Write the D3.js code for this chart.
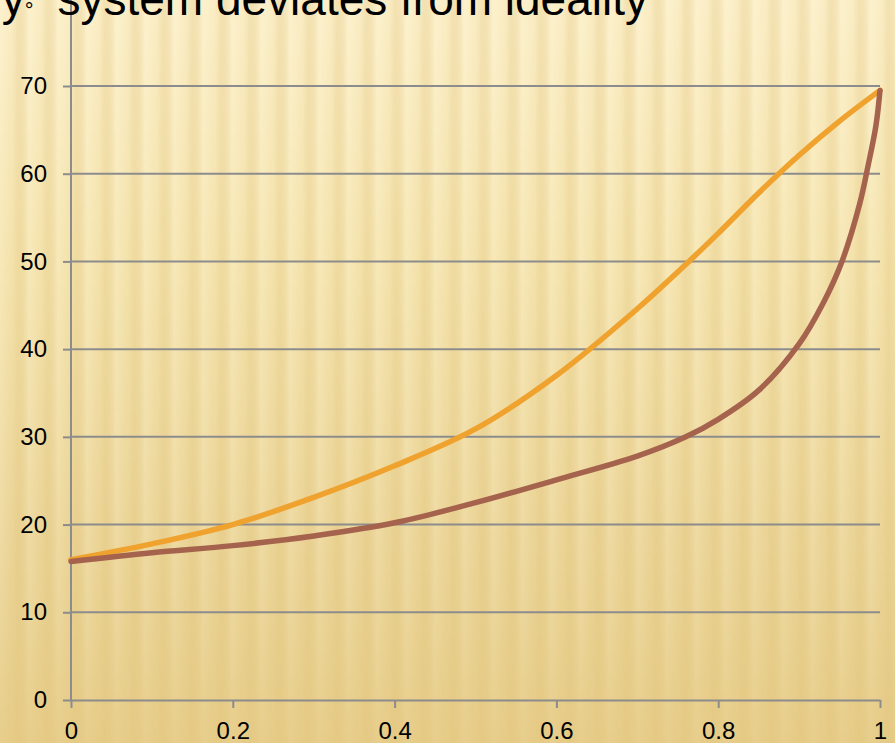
<!DOCTYPE html>
<html>
<head>
<meta charset="utf-8">
<script src="https://cdn.jsdelivr.net/npm/d3@7"></script>
<style>
  html, body { margin: 0; padding: 0; background: #f3e0a8; }
  svg { display: block; }
  text { font-family: "Liberation Sans", Arial, sans-serif; }
</style>
</head>
<body>
<div id="chart"></div>
<script>
// Mole fraction grid and the two curves (upper and lower boundary)
const xTicks = [0, 0.2, 0.4, 0.6, 0.8, 1];
const yTicks = [0, 10, 20, 30, 40, 50, 60, 70];

const upperX = [0, 0.1, 0.2, 0.3, 0.4, 0.5, 0.6, 0.7, 0.75, 0.8, 0.85, 0.9, 0.95, 1];
const upperY = [16, 17.8, 20, 23.1, 26.7, 30.9, 37.0, 44.6, 48.8, 53.2, 57.8, 62.1, 66.0, 69.5];

const lowerX = [0, 0.1, 0.2, 0.3, 0.4, 0.5, 0.6, 0.7, 0.76, 0.8, 0.85, 0.9, 0.93, 0.953, 0.975, 0.985, 0.995, 1];
const lowerY = [15.8, 16.8, 17.6, 18.7, 20.2, 22.5, 25.1, 27.8, 30, 32, 35.3, 40.6, 45.3, 50, 56.6, 60.8, 65.5, 69.5];

const titleParts = ["y", "°", "system deviates from ideality"];

const W = 895, H = 743;
const margin = { left: 71, right: 15, bottom: 43 };

const svg = d3.select("#chart").append("svg")
  .attr("width", W).attr("height", H);

const defs = svg.append("defs");

// warm backdrop: pale cream at the top, deeper gold toward the bottom
const bg = defs.append("linearGradient").attr("id", "bgGrad")
  .attr("x1", 0).attr("y1", 0).attr("x2", 0).attr("y2", 1);
bg.append("stop").attr("offset", 0).attr("stop-color", "#fbedc4");
bg.append("stop").attr("offset", 0.35).attr("stop-color", "#f4e2aa");
bg.append("stop").attr("offset", 0.7).attr("stop-color", "#ebd496");
bg.append("stop").attr("offset", 1).attr("stop-color", "#e6cb86");

// soft vertical ribbing
const rib = defs.append("linearGradient").attr("id", "ribGrad")
  .attr("x1", 0).attr("y1", 0).attr("x2", 1).attr("y2", 0);
rib.append("stop").attr("offset", 0).attr("stop-color", "#fff8dc").attr("stop-opacity", 0.4);
rib.append("stop").attr("offset", 0.35).attr("stop-color", "#fff8dc").attr("stop-opacity", 0.08);
rib.append("stop").attr("offset", 0.6).attr("stop-color", "#c9a24a").attr("stop-opacity", 0.14);
rib.append("stop").attr("offset", 1).attr("stop-color", "#fff8dc").attr("stop-opacity", 0.4);

const pat = defs.append("pattern").attr("id", "ribs")
  .attr("patternUnits", "userSpaceOnUse")
  .attr("width", 29).attr("height", H);
pat.append("rect").attr("width", 29).attr("height", H).attr("fill", "url(#ribGrad)");

const fade = defs.append("linearGradient").attr("id", "fadeGrad")
  .attr("x1", 0).attr("y1", 0).attr("x2", 0).attr("y2", 1);
fade.append("stop").attr("offset", 0).attr("stop-color", "white").attr("stop-opacity", 1);
fade.append("stop").attr("offset", 0.75).attr("stop-color", "white").attr("stop-opacity", 0.5);
fade.append("stop").attr("offset", 1).attr("stop-color", "white").attr("stop-opacity", 0.2);
defs.append("mask").attr("id", "ribMask")
  .append("rect").attr("width", W).attr("height", H).attr("fill", "url(#fadeGrad)");

svg.append("rect").attr("width", W).attr("height", H).attr("fill", "url(#bgGrad)");
svg.append("rect").attr("width", W).attr("height", H).attr("fill", "url(#ribs)")
  .attr("mask", "url(#ribMask)");

// scales
const x = d3.scaleLinear().domain([0, 1]).range([margin.left, W - margin.right]);
const y = d3.scaleLinear().domain([0, 70]).range([H - margin.bottom, 86]);

const gridColor = "#8c8c8c";

// horizontal gridlines
svg.append("g").selectAll("line")
  .data(yTicks.filter(d => d > 0))
  .join("line")
  .attr("x1", x(0)).attr("x2", x(1))
  .attr("y1", d => y(d)).attr("y2", d => y(d))
  .attr("stroke", gridColor).attr("stroke-width", 2);

// y axis (line continues to the top edge)
const yAxis = svg.append("g")
  .attr("transform", `translate(${x(0)},0)`)
  .call(d3.axisLeft(y).tickValues(yTicks).tickSize(8).tickSizeOuter(0).tickPadding(16)
    .tickFormat(d3.format("d")));
yAxis.select(".domain").remove();
yAxis.selectAll(".tick line").attr("stroke", gridColor).attr("stroke-width", 2);
yAxis.selectAll("text").attr("font-size", 24).attr("fill", "#000");
svg.append("line")
  .attr("x1", x(0)).attr("x2", x(0))
  .attr("y1", y(0)).attr("y2", 0)
  .attr("stroke", gridColor).attr("stroke-width", 2);

// x axis
const xAxis = svg.append("g")
  .attr("transform", `translate(0,${y(0)})`)
  .call(d3.axisBottom(x).tickValues(xTicks).tickSize(8).tickSizeOuter(0).tickPadding(14)
    .tickFormat(d3.format("~g")));
xAxis.select(".domain").attr("stroke", gridColor).attr("stroke-width", 2);
xAxis.selectAll(".tick line").attr("stroke", gridColor).attr("stroke-width", 2);
xAxis.selectAll("text").attr("font-size", 24).attr("fill", "#000");

// curves (centripetal Catmull-Rom keeps the steep end smooth)
const curveLine = d3.line()
  .x(d => x(d[0])).y(d => y(d[1]))
  .curve(d3.curveCatmullRom.alpha(0.5));

svg.append("path")
  .datum(upperX.map((v, i) => [v, upperY[i]]))
  .attr("d", curveLine)
  .attr("fill", "none").attr("stroke", "#f0a22e").attr("stroke-width", 5.5)
  .attr("stroke-linecap", "round").attr("stroke-linejoin", "round");

svg.append("path")
  .datum(lowerX.map((v, i) => [v, lowerY[i]]))
  .attr("d", curveLine)
  .attr("fill", "none").attr("stroke", "#a5634e").attr("stroke-width", 5.5)
  .attr("stroke-linecap", "round").attr("stroke-linejoin", "round");

// heading, partly clipped by the top edge
const title = svg.append("text")
  .attr("x", 648).attr("y", 15)
  .attr("text-anchor", "end")
  .attr("font-size", 46)
  .attr("fill", "#000");
title.append("tspan").text(titleParts[0]);
title.append("tspan").attr("font-size", 22).attr("dy", 3).text(titleParts[1]);
title.append("tspan").attr("dy", -3).attr("dx", 24).text(titleParts[2]);
</script>
</body>
</html>
